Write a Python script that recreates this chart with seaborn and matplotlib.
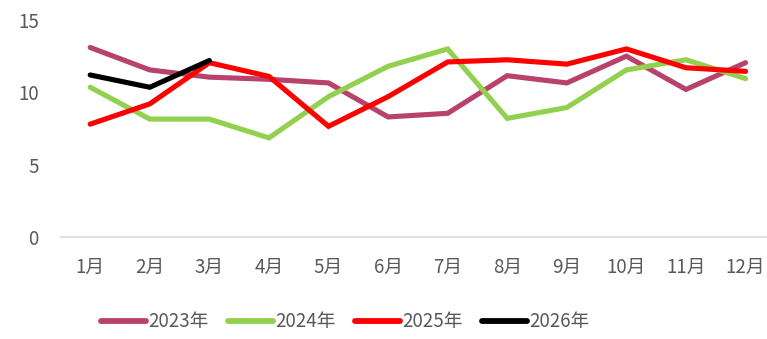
import matplotlib
matplotlib.use("Agg")
import matplotlib.pyplot as plt
import seaborn as sns
import pandas as pd

months = ["1月", "2月", "3月", "4月", "5月", "6月", "7月", "8月", "9月", "10月", "11月", "12月"]
v2023 = [13.1, 11.55, 11.05, 10.9, 10.65, 8.3, 8.55, 11.15, 10.65, 12.5, 10.2, 12.05]
v2024 = [10.35, 8.15, 8.15, 6.85, 9.7, 11.8, 13.0, 8.2, 8.95, 11.55, 12.25, 10.95]
v2025 = [7.8, 9.2, 12.05, 11.1, 7.65, 9.7, 12.1, 12.25, 11.95, 13.0, 11.7, 11.45]
v2026 = [11.2, 10.35, 12.2]

series = {"2023年": v2023, "2024年": v2024, "2025年": v2025, "2026年": v2026}
colors = {"2023年": "#b8426c", "2024年": "#92d050", "2025年": "#ff0000", "2026年": "#000000"}

rows = []
for name, vals in series.items():
    for i, v in enumerate(vals):
        rows.append({"月份": i, "值": v, "年份": name})
df = pd.DataFrame(rows)

sns.set_theme(style="white")
plt.rcParams["font.family"] = ["Noto Sans CJK SC", "DejaVu Sans"]

fig = plt.figure(figsize=(7.67, 3.39), dpi=100)
ax = fig.add_axes([61 / 767, 1 - 237 / 339, 706 / 767, (237 - 20) / 339])

sns.lineplot(data=df, x="月份", y="值", hue="年份", palette=colors,
             linewidth=3.7, ax=ax, legend=False, sort=False)
for ln in ax.lines:
    ln.set_solid_capstyle("round")
    ln.set_solid_joinstyle("miter")

ax.set_xlim(-0.49, 11.36)
ax.set_ylim(0, 15)
ax.set_yticks([0, 5, 10, 15])
ax.set_xticks(range(12))
ax.set_xticklabels(months)
ax.set_xlabel("")
ax.set_ylabel("")
for s in ["top", "right", "left"]:
    ax.spines[s].set_visible(False)
ax.spines["bottom"].set_color("#d9d9d9")
ax.spines["bottom"].set_linewidth(1.2)
ax.tick_params(axis="both", length=0, labelsize=13.5, colors="#595959")
ax.tick_params(axis="x", pad=14)
ax.tick_params(axis="y", pad=16)
ax.grid(False)

handles = [plt.Line2D([], [], color=colors[n], linewidth=4.2, solid_capstyle="round") for n in series]
fig.legend(handles, list(series.keys()), loc="center", bbox_to_anchor=(0.45, 1 - 322 / 339),
           ncol=4, frameon=False, fontsize=13.5, handlelength=2.4, handletextpad=0.15,
           columnspacing=1.0, labelcolor="#595959")

fig.savefig("out.png", dpi=100)
